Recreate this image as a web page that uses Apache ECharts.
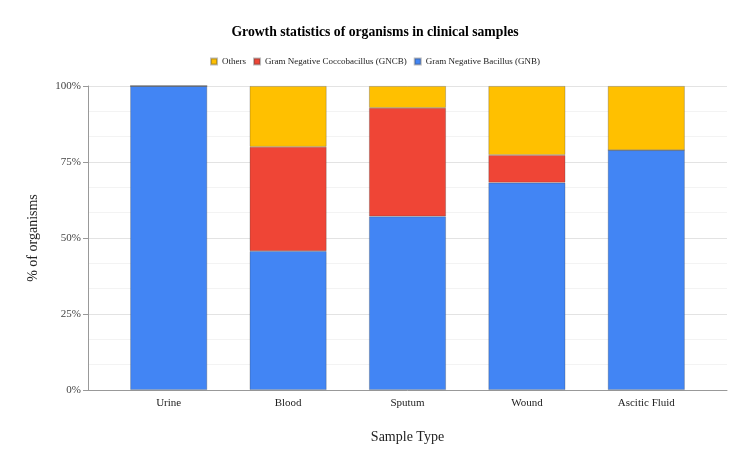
<!DOCTYPE html>
<html><head><meta charset="utf-8">
<script src="https://cdn.jsdelivr.net/npm/echarts@6/dist/echarts.min.js"></script>
<style>html,body{margin:0;padding:0;background:#fff}#c{width:750px;height:466px}</style>
</head><body><div id="c"></div>
<script>
var categories = ["Urine", "Blood", "Sputum", "Wound", "Ascitic Fluid"];
var gnb = [100, 45.7, 57.1, 68.2, 78.9];
var gncb = [0, 34.3, 35.7, 9.1, 0];
var others = [0, 20.0, 7.2, 22.7, 21.1];
var yTicks = [0, 25, 50, 75, 100];

var FONT = '"Liberation Serif", "DejaVu Serif", serif';
var chart = echarts.init(document.getElementById('c'));
chart.setOption({
  animation: false,
  backgroundColor: '#fff',
  title: {
    text: 'Growth statistics of organisms in clinical samples',
    left: 'center', top: 20,
    textStyle: {fontFamily: FONT, fontSize: 13.7, fontWeight: 'bold', color: '#000'}
  },
  legend: {
    top: 52, left: 'center',
    data: ['Others', 'Gram Negative Coccobacillus (GNCB)', 'Gram Negative Bacillus (GNB)'],
    icon: 'rect', itemWidth: 6, itemHeight: 6, itemGap: 7,
    textStyle: {fontFamily: FONT, fontSize: 9, color: '#222'}
  },
  grid: [
    {left: 88, right: 23, top: 86, bottom: 76},
    {left: 109, right: 44, top: 86, bottom: 76}
  ],
  xAxis: [
    {type: 'value', gridIndex: 0, min: 0, max: 1,
     axisLine: {show: true, lineStyle: {color: '#999', width: 1}},
     axisTick: {show: false}, axisLabel: {show: false}, splitLine: {show: false},
     name: 'Sample Type', nameLocation: 'middle', nameGap: 40,
     nameTextStyle: {fontFamily: FONT, fontSize: 14, color: '#222'}},
    {type: 'category', gridIndex: 1, data: categories,
     axisLine: {show: false}, axisTick: {show: false},
     axisLabel: {fontFamily: FONT, fontSize: 11, color: '#222', margin: 8}}
  ],
  yAxis: [
    {type: 'value', gridIndex: 0, min: 0, max: 100, interval: 25,
     axisLine: {show: true, lineStyle: {color: '#999'}},
     axisTick: {show: true, length: 5, lineStyle: {color: '#999'}},
     axisLabel: {fontFamily: FONT, fontSize: 11, color: '#444', margin: 7,
       formatter: function (v) { return yTicks.indexOf(v) >= 0 ? v + '%' : ''; }},
     splitLine: {show: true, lineStyle: {color: '#e3e3e3'}},
     minorTick: {show: false, splitNumber: 3},
     minorSplitLine: {show: true, lineStyle: {color: '#f3f3f3'}},
     name: '% of organisms', nameLocation: 'middle', nameGap: 48,
     nameTextStyle: {fontFamily: FONT, fontSize: 14, color: '#222'}},
    {type: 'value', gridIndex: 1, min: 0, max: 100, show: false,
     splitLine: {show: false}}
  ],
  series: [
    {name: 'Gram Negative Bacillus (GNB)', type: 'bar', stack: 's', xAxisIndex: 1, yAxisIndex: 1,
     data: gnb, barWidth: 77, itemStyle: {color: '#4285F4', borderColor: 'rgba(60,60,60,0.35)', borderWidth: 0.8}},
    {name: 'Gram Negative Coccobacillus (GNCB)', type: 'bar', stack: 's', xAxisIndex: 1, yAxisIndex: 1,
     data: gncb, barWidth: 77, itemStyle: {color: '#EF4536', borderColor: 'rgba(60,60,60,0.35)', borderWidth: 0.8}},
    {name: 'Others', type: 'bar', stack: 's', xAxisIndex: 1, yAxisIndex: 1,
     data: others, barWidth: 77, itemStyle: {color: '#FFC000', borderColor: 'rgba(60,60,60,0.35)', borderWidth: 0.8}}
  ]
});
</script></body></html>
